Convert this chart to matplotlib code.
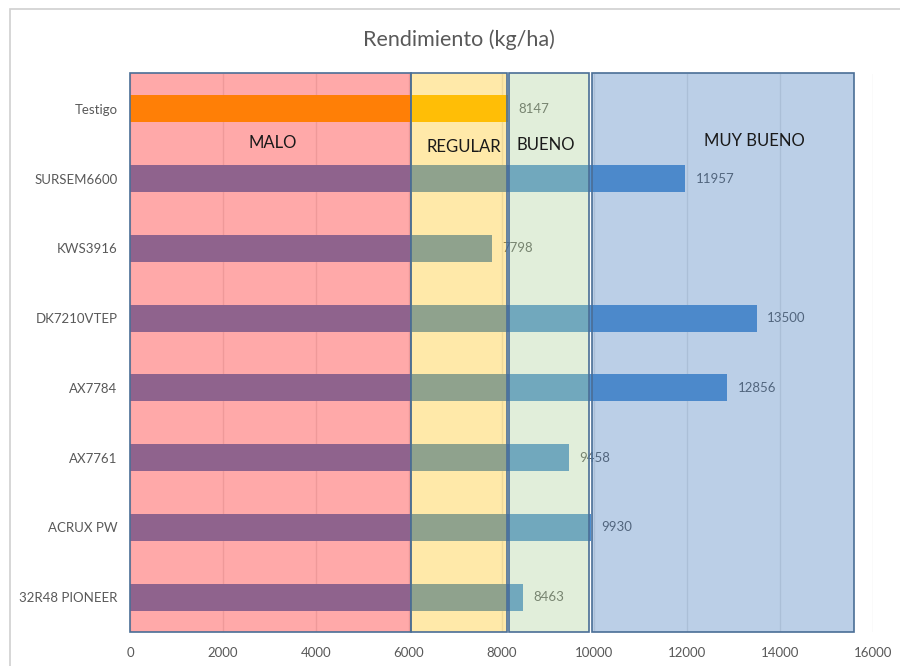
import matplotlib
matplotlib.use("Agg")
import matplotlib.pyplot as plt
from matplotlib.patches import Rectangle

# ---- data ----
categories = ["Testigo", "SURSEM6600", "KWS3916", "DK7210VTEP",
              "AX7784", "AX7761", "ACRUX PW", "32R48 PIONEER"]
values = [8147, 11957, 7798, 13500, 12856, 9458, 9930, 8463]
zone_names = ["MALO", "REGULAR", "BUENO", "MUY BUENO"]
zone_start = [0, 6050, 8160, 9940]
zone_end = [6050, 8120, 9880, 15600]
x_ticks = [0, 2000, 4000, 6000, 8000, 10000, 12000, 14000, 16000]

# ---- style ----
plt.rcParams['font.family'] = ['Lato', 'DejaVu Sans']
GREY = "#595959"
bar_colors = ["#FFBD00"] + ["#5091D2"] * (len(categories) - 1)
zone_colors = [(1.0, 0.075, 0.075, 0.36), (1.0, 0.76, 0.075, 0.36),
               (0.68, 0.82, 0.60, 0.36), (0.27, 0.486, 0.75, 0.36)]
zone_edge = "#4A6E96"
zone_label_pos = [(3062, 0.49), (7181, 0.55), (8949, 0.52), (13455, 0.46)]

fig = plt.figure(figsize=(9, 6.66), dpi=100)
fig.patch.set_facecolor("white")

# chart frame
fig.add_artist(Rectangle((10 / 900, -0.1), 1.2, (666 - 9) / 666 + 0.1,
                         transform=fig.transFigure, fill=False,
                         edgecolor="#D0D0D0", linewidth=1.2))

ax = fig.add_axes([130 / 900, 34 / 666, 743 / 900, 558 / 666])
ax.set_xlim(0, 16000)
ax.set_ylim(len(categories) - 0.5, -0.5)

ypos = list(range(len(categories)))
ax.barh(ypos, values, height=0.39, color=bar_colors, zorder=1)

for i, v in enumerate(values):
    ax.annotate(str(v), xy=(v, i), xytext=(7.5, 0), textcoords="offset points",
                va="center", ha="left", fontsize=9.5, color=GREY, zorder=1.5)

for xs, xe, fc in zip(zone_start, zone_end, zone_colors):
    ax.add_patch(Rectangle((xs, -0.52), xe - xs, len(categories) + 0.02,
                           facecolor=fc, edgecolor=zone_edge, linewidth=1.2,
                           zorder=2, clip_on=False))

for name, (zx, zy) in zip(zone_names, zone_label_pos):
    ax.text(zx, zy, name, ha="center", va="center", fontsize=12,
            color="#1A1A1A", zorder=3)

ax.set_xticks(x_ticks)
ax.set_xticklabels([str(t) for t in x_ticks])
ax.set_yticks(ypos)
ax.set_yticklabels(categories)
ax.tick_params(axis="x", length=0, pad=11, labelsize=9.5, labelcolor=GREY)
ax.tick_params(axis="y", length=0, pad=9, labelsize=9.5, labelcolor=GREY)
ax.xaxis.grid(True, color="#E6E6E6", linewidth=1, zorder=0)
ax.set_axisbelow(True)
for s in ax.spines.values():
    s.set_visible(False)

fig.text(459 / 900, 1 - 40 / 666, "Rendimiento (kg/ha)", ha="center",
         va="center", fontsize=15.5, color=GREY)

fig.savefig("out.png", dpi=100)
